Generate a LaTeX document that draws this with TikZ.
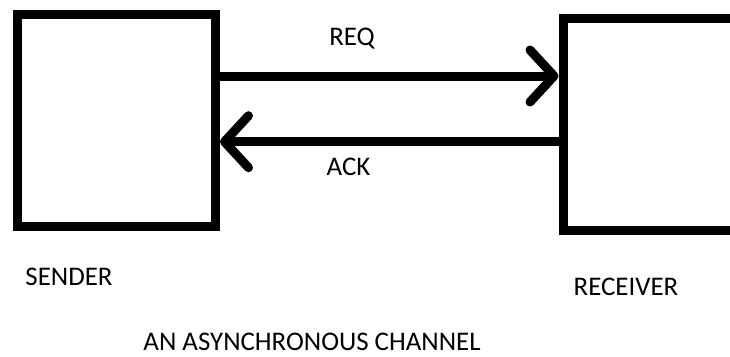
\documentclass[tikz,border=0pt]{standalone}
\usepackage{fontspec}
\setmainfont{Carlito}
\usetikzlibrary{arrows.meta, positioning}

\begin{document}
\begin{tikzpicture}[
  x=1bp, y=-1bp,
  ubox/.style={draw, line width=9bp, inner sep=0pt},
  chan/.style={line width=9bp, -{Straight Barb[length=24bp, width=52bp, round]}},
  lbl/.style={anchor=base, inner sep=0pt, font=\fontsize{27}{30}\selectfont}
]
  \clip (0,0) rectangle (730,356);

  \node[ubox, minimum width=198bp, minimum height=211.5bp] (sender) at (116.5,120.25) {};
  \node[ubox, minimum width=227bp, minimum height=212.5bp] (receiver) at (676.5,124.25) {};

  \draw[chan] (sender.east |- 0,76) -- (receiver.west |- 0,76);
  \draw[chan] (receiver.west |- 0,141.7) -- (sender.east |- 0,141.7);

  \node[lbl] (req) at (352,45) {REQ};
  \node[lbl] (ack) at (348.5,175) {ACK};
  \node[lbl] (sendname) at (69,285) {SENDER};
  \node[lbl] (recvname) at (626,295) {RECEIVER};
  \node[lbl] (title) at (312,350) {AN ASYNCHRONOUS CHANNEL};
\end{tikzpicture}
\end{document}
